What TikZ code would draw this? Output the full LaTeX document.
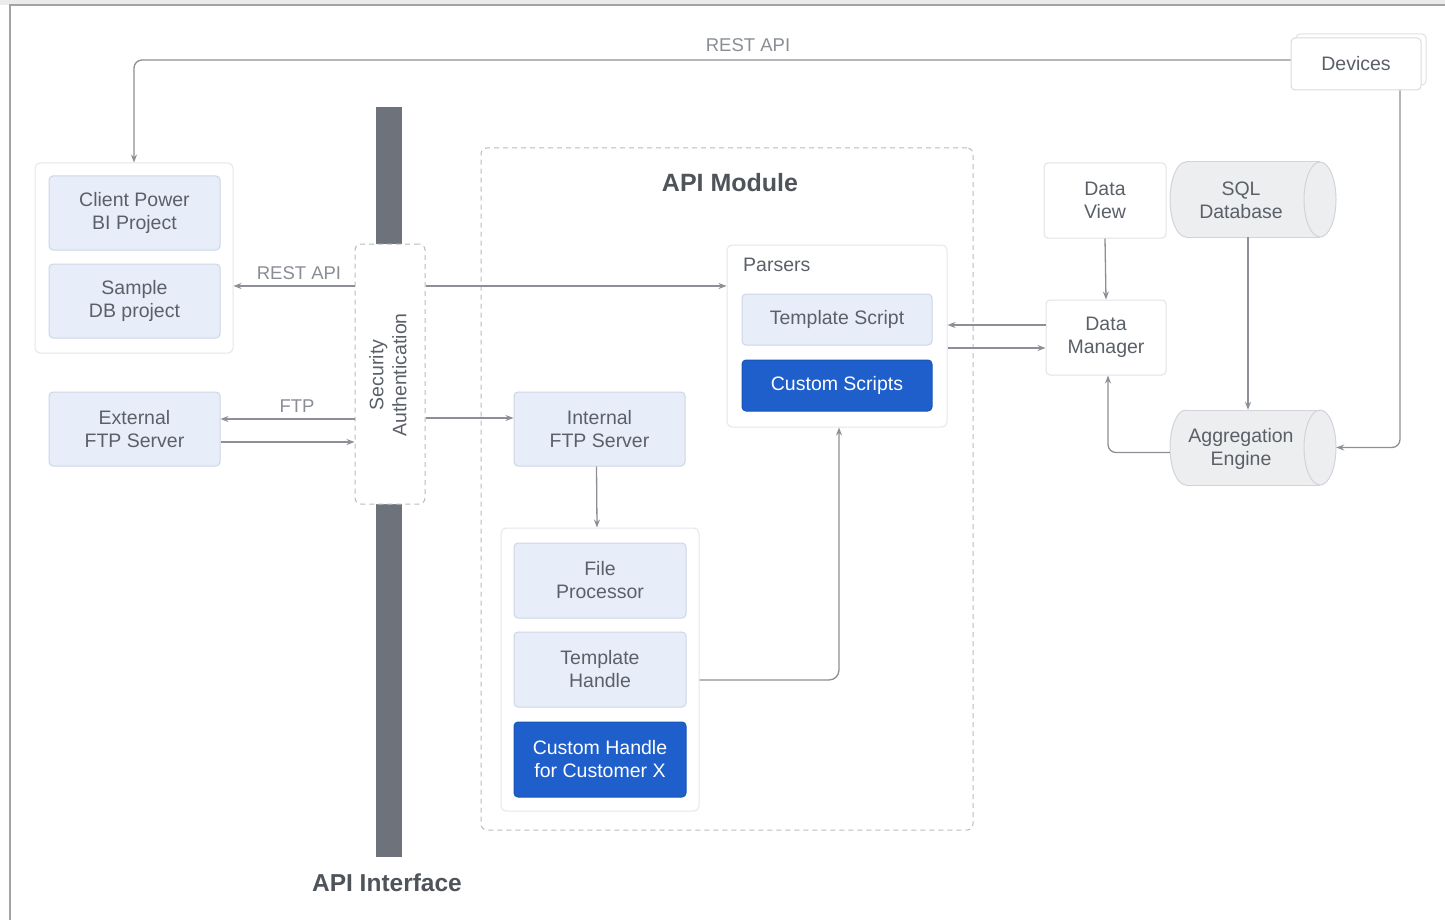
\documentclass[tikz,border=0pt]{standalone}
\usepackage{fontspec}
\setmainfont{Liberation Sans}
\usetikzlibrary{arrows.meta}
\definecolor{txt}{HTML}{5B6068}
\definecolor{labc}{HTML}{8A8E94}
\definecolor{linec}{HTML}{8C9096}
\definecolor{lbfill}{HTML}{E8EEF9}
\definecolor{lbdraw}{HTML}{CDD6E6}
\definecolor{bfill}{HTML}{1E5FCB}
\definecolor{bdraw}{HTML}{1A55B8}
\definecolor{wdraw}{HTML}{E1E3E6}
\definecolor{gdraw}{HTML}{E4E6E9}
\definecolor{dashc}{HTML}{B8BBC0}
\definecolor{barc}{HTML}{6E737B}
\definecolor{cylfill}{HTML}{EDEEF0}
\definecolor{cylline}{HTML}{D2D4D8}
\definecolor{framec}{HTML}{A3A3A3}
\definecolor{titlec}{HTML}{4F545B}
\begin{document}
\begin{tikzpicture}[x=1pt,y=-1pt,
  sz/.style 2 args={minimum width=#1pt, minimum height=#2pt},
  base/.style={inner sep=0pt, align=center, font=\fontsize{19.5}{23}\selectfont, text=txt},
  lbox/.style={base, rounded corners=4pt, draw=lbdraw, fill=lbfill, line width=1pt},
  bbox/.style={base, rounded corners=4pt, draw=bdraw, fill=bfill, text=white, line width=1pt},
  wbox/.style={base, rounded corners=4pt, draw=wdraw, fill=white, line width=1pt},
  grp/.style={inner sep=0pt, rounded corners=5pt, draw=gdraw, fill=white, line width=1pt},
  dbox/.style={inner sep=0pt, rounded corners=6pt, draw=dashc, dash pattern=on 5pt off 4pt, line width=1pt},
  conn/.style={draw=linec, line width=1.3pt, -{Stealth[length=8pt,width=6pt]}},
  lab/.style={inner sep=0pt, font=\fontsize{18.5}{22}\selectfont, text=labc},
  title/.style={inner sep=0pt, font=\bfseries\fontsize{25}{30}\selectfont, text=titlec},
  cyl/.style={draw=cylline, line width=1pt}
]
\useasboundingbox (0,0) rectangle (1445,920);
\fill[white] (0,0) rectangle (1445,920);
\fill[black!8] (0,0) rectangle (1445,5);
\draw[framec, line width=1.2pt] (10,920) -- (10,5) -- (1445,5);

% API interface bar
\fill[barc] (376,107) rectangle (402,857);
\node[title, font=\bfseries\fontsize{24.5}{30}\selectfont] (apiif) at (387,883) {API Interface};

% API module
\node[dbox, sz={492}{682}] (apimod) at (727,489) {};
\node[title] (apimodt) at (730,183) {API Module};

% Devices
\node[wbox, draw=black!12, sz={130}{51}] (devback) at (1361,59.5) {};
\node[wbox, draw=black!14, sz={130}{52}] (dev) at (1356,64) {Devices};

% Client group
\node[grp, sz={198}{190}] (cgrp) at (134,258) {};
\node[lbox, sz={171}{74}] (cpbi) at (134.5,213) {Client Power\\BI Project};
\node[lbox, sz={171}{74}] (sdb) at (134.5,301) {Sample\\DB project};
\node[lbox, sz={171}{74}] (ext) at (134.5,429) {External\\FTP Server};

% Security
\node[dbox, fill=white, sz={70}{260}] (sec) at (390,374) {};
\node[base, rotate=90] (sect) at (388,375) {Security\\Authentication};

% Parsers
\node[grp, sz={220}{182}] (par) at (837,336) {};
\node[base, anchor=west] (part) at (743,265) {Parsers};
\node[lbox, sz={190}{51}] (ts) at (837,319.5) {Template Script};
\node[bbox, sz={190}{51}] (cs) at (837,385.5) {Custom Scripts};

% Internal FTP and handlers
\node[lbox, sz={171}{74}] (ift) at (599.5,429) {Internal\\FTP Server};
\node[grp, sz={198}{283}] (hgrp) at (600,669.5) {};
\node[lbox, sz={172}{75}] (fp) at (600,580.5) {File\\Processor};
\node[lbox, sz={172}{75}] (th) at (600,669.5) {Template\\Handle};
\node[bbox, sz={172}{75}] (ch) at (600,759.5) {Custom Handle\\for Customer X};

% Right side
\node[wbox, sz={122}{75}] (dv) at (1105,200.5) {Data\\View};
\node[wbox, sz={120}{75}] (dm) at (1106,337.5) {Data\\Manager};

% SQL cylinder
\fill[cylfill] (1186,162) rectangle (1320,237);
\fill[cylfill] (1186,199.5) ellipse[x radius=16, y radius=37.5];
\fill[cylfill] (1320,199.5) ellipse[x radius=16, y radius=37.5];
\draw[cyl] (1186,162) -- (1320,162) (1186,237) -- (1320,237);
\draw[cyl] (1320,199.5) ellipse[x radius=16, y radius=37.5];
\begin{scope}\clip (1160,150) rectangle (1186,250);
\draw[cyl] (1186,199.5) ellipse[x radius=16, y radius=37.5];\end{scope}
\node[inner sep=0pt, sz={166}{75}] (sql) at (1253,199.5) {};
\node[base] (sqlt) at (1241,200) {SQL\\Database};

% Aggregation cylinder
\fill[cylfill] (1186,410) rectangle (1320,485);
\fill[cylfill] (1186,447.5) ellipse[x radius=16, y radius=37.5];
\fill[cylfill] (1320,447.5) ellipse[x radius=16, y radius=37.5];
\draw[cyl] (1186,410) -- (1320,410) (1186,485) -- (1320,485);
\draw[cyl] (1320,447.5) ellipse[x radius=16, y radius=37.5];
\begin{scope}\clip (1160,398) rectangle (1186,498);
\draw[cyl] (1186,447.5) ellipse[x radius=16, y radius=37.5];\end{scope}
\node[inner sep=0pt, sz={166}{75}] (agg) at (1253,447.5) {};
\node[base] (aggt) at (1241,449) {Aggregation\\Engine};

% Connectors
\draw[conn, rounded corners=8pt] ([yshift=4pt]dev.west) -| (cgrp.north);
\node[lab] (restt) at (748,45) {REST API};
\draw[conn, rounded corners=8pt] ([xshift=44pt]dev.south) |- (agg.east);
\draw[conn] ([yshift=88pt]sec.west) -- ([yshift=88pt]sec.west -| cgrp.east);
\node[lab] (restl) at (299,273) {REST API};
\draw[conn] ([yshift=88pt]sec.east) -- ([yshift=88pt]sec.east -| par.west);
\draw[conn] ([yshift=-45pt]sec.west) -- ([yshift=-45pt]sec.west -| ext.east);
\node[lab] (ftpl) at (297,406) {FTP};
\draw[conn] ([yshift=-68pt]sec.west -| ext.east) -- ([yshift=-68pt]sec.west);
\draw[conn] ([yshift=-44pt]sec.east) -- ([yshift=-44pt]sec.east -| ift.west);
\draw[conn] ([xshift=-3pt]ift.south) -- ([xshift=-3pt]hgrp.north);
\draw[conn, rounded corners=10pt] ([yshift=-10.5pt]hgrp.east) -| ([xshift=2pt]par.south);
\draw[conn] ([yshift=12.5pt]dm.west) -- ([yshift=12.5pt]dm.west -| par.east);
\draw[conn] ([yshift=-10.5pt]dm.west -| par.east) -- ([yshift=-10.5pt]dm.west);
\draw[conn] (dv.south) -- (dm.north);
\draw[conn] ([xshift=-5pt]sql.south) -- ([xshift=-5pt]agg.north);
\draw[conn, rounded corners=8pt] ([yshift=-5pt]agg.west) -| ([xshift=2pt]dm.south);
\end{tikzpicture}
\end{document}
